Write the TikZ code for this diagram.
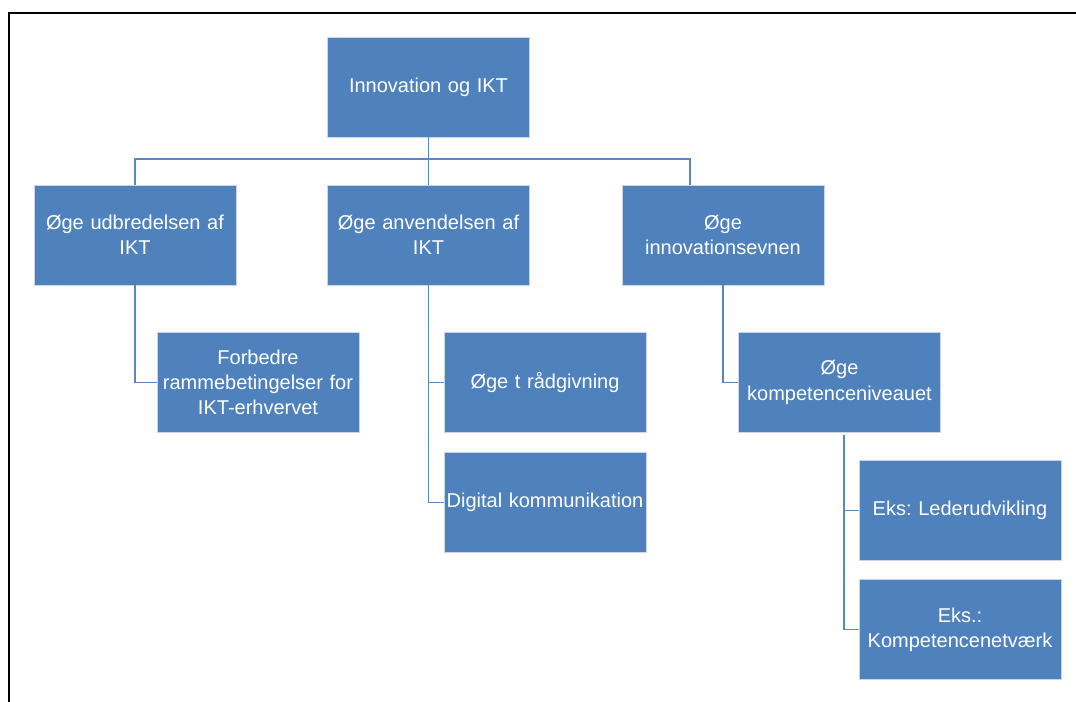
\documentclass[tikz,border=0pt]{standalone}
\usepackage{fontspec}
\setmainfont{Liberation Sans}
\usetikzlibrary{positioning}

\definecolor{boxblue}{HTML}{4F81BD}
\definecolor{edgeblue}{HTML}{C9D6EA}
\definecolor{linkblue}{HTML}{5B86C0}

\tikzset{
  box/.style = {fill = boxblue, draw = edgeblue, line width = 0.4pt,
    minimum width = 151.5pt, minimum height = 75pt, inner sep = 1pt,
    text width = 149pt, align = center, text = white,
    font = \fontsize{15}{19}\selectfont\frenchspacing},
  link/.style = {draw = linkblue, line width = 1.1pt}
}

\begin{document}
\begin{tikzpicture}[x = 0.75pt, y = -0.75pt]
\useasboundingbox (0,0) rectangle (1076,702);

\draw[line width = 2.2pt] (9,702) -- (9,13) -- (1076,13);

\node[box] (root) at (428.5,87) {Innovation og IKT};

\node[box] (a) at (135,235) {Øge udbredelsen af\\IKT};
\node[box] (b) at (428.5,235) {Øge anvendelsen af\\IKT};
\node[box] (c) at (723,235) {Øge\\innovationsevnen};

\node[box] (a1) at (258,382.5) {Forbedre\\rammebetingelser for\\IKT-erhvervet};
\node[box] (b1) at (545,382.5) {Øge t rådgivning};
\node[box] (b2) at (545,502.5) {Digital kommunikation};
\node[box] (c1) at (839.5,382.5) {Øge\\kompetenceniveauet};
\node[box] (c11) at (960,510.5) {Eks: Lederudvikling};
\node[box] (c12) at (960,629.5) {Eks.:\\Kompetencenetværk};

\coordinate (cfork) at (690,159);
\coordinate (c1fork) at (844,435);

\draw[link] (root.south) -- (root.south |- cfork);
\draw[link] (a.north) |- (cfork) -- (cfork |- c.north);
\draw[link] (root.south |- cfork) -- (b.north);

\draw[link] (a.south) |- (a1.west);
\draw[link] (b.south) |- (b1.west);
\draw[link] (b.south) |- (b2.west);
\draw[link] (c.south) |- (c1.west);
\draw[link] (c1fork) |- (c11.west);
\draw[link] (c1fork) |- (c12.west);
\end{tikzpicture}
\end{document}
